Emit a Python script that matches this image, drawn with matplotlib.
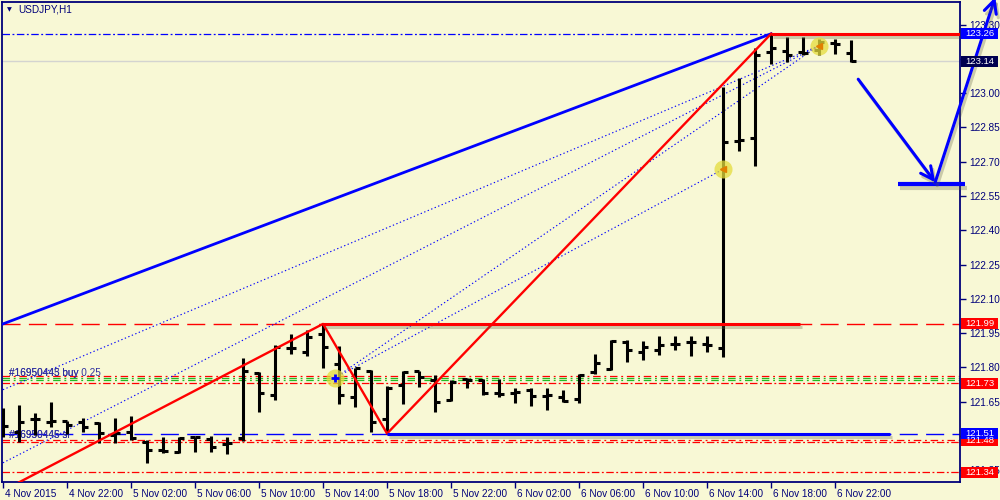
import numpy as np
import matplotlib
matplotlib.use("Agg")
import matplotlib.pyplot as plt
import matplotlib.patheffects as pe
from matplotlib.patches import Rectangle
from matplotlib.transforms import blended_transform_factory, offset_copy

plt.rcParams['font.family'] = ['Liberation Sans', 'DejaVu Sans']

# ---------------- data ----------------
title = "USDJPY,H1"
time_labels = ["4 Nov 2015", "4 Nov 22:00", "5 Nov 02:00", "5 Nov 06:00", "5 Nov 10:00",
               "5 Nov 14:00", "5 Nov 18:00", "5 Nov 22:00", "6 Nov 02:00", "6 Nov 06:00",
               "6 Nov 10:00", "6 Nov 14:00", "6 Nov 18:00", "6 Nov 22:00"]
label_every = 4

opens = [121.570, 121.518, 121.572, 121.561, 121.566, 121.561, 121.557, 121.504, 121.518, 121.474,
         121.439, 121.430, 121.496, 121.487, 121.465, 121.491, 121.776, 121.680, 121.886, 121.868,
         121.947, 121.816, 121.671, 121.785, 121.575, 121.724, 121.785, 121.746, 121.658, 121.750,
         121.746, 121.689, 121.689, 121.702, 121.675, 121.671, 121.662, 121.781, 121.794, 121.912,
         121.868, 121.877, 121.904, 121.912, 121.904, 121.886, 122.789, 122.803, 123.180, 123.184,
         123.180, 123.189, 123.219, 123.175]
highs = [121.623, 121.636, 121.601, 121.649, 121.566, 121.579, 121.561, 121.579, 121.588, 121.482,
         121.496, 121.496, 121.496, 121.500, 121.496, 121.842, 121.781, 121.899, 121.947, 121.965,
         121.991, 121.895, 121.798, 121.789, 121.719, 121.785, 121.785, 121.768, 121.746, 121.754,
         121.750, 121.750, 121.711, 121.711, 121.711, 121.702, 121.772, 121.860, 121.921, 121.921,
         121.917, 121.939, 121.939, 121.939, 121.939, 123.026, 123.066, 123.197, 123.259, 123.246,
         123.246, 123.237, 123.237, 123.232]
lows = [121.496, 121.474, 121.504, 121.539, 121.509, 121.518, 121.469, 121.469, 121.482, 121.382,
        121.425, 121.425, 121.430, 121.430, 121.421, 121.478, 121.605, 121.658, 121.860, 121.851,
        121.798, 121.640, 121.627, 121.518, 121.509, 121.640, 121.715, 121.605, 121.654, 121.711,
        121.680, 121.671, 121.645, 121.632, 121.614, 121.649, 121.645, 121.772, 121.789, 121.825,
        121.833, 121.855, 121.877, 121.851, 121.868, 121.846, 122.746, 122.680, 123.127, 123.136,
        123.167, 123.167, 123.171, 123.136]
closes = [121.545, 121.561, 121.575, 121.566, 121.548, 121.539, 121.513, 121.513, 121.491, 121.439,
          121.434, 121.491, 121.494, 121.452, 121.469, 121.785, 121.689, 121.890, 121.884, 121.934,
          121.890, 121.680, 121.798, 121.561, 121.711, 121.781, 121.759, 121.649, 121.737, 121.746,
          121.689, 121.684, 121.693, 121.675, 121.680, 121.654, 121.768, 121.820, 121.917, 121.877,
          121.890, 121.899, 121.904, 121.910, 121.899, 122.785, 122.794, 123.167, 123.197, 123.167,
          123.175, 123.224, 123.215, 123.140]

y_ticks = [121.35, 121.50, 121.65, 121.80, 121.95, 122.10, 122.25, 122.40,
           122.55, 122.70, 122.85, 123.00, 123.15, 123.30]
hidden_ticks = [121.50, 123.15]   # covered by the price boxes in the terminal

# drawn objects (bar index, price)
blue_trend_x = [0, 48]
blue_trend_y = [121.99, 123.26]
red_zigzag_x = [0, 20, 24, 48]
red_zigzag_y = [121.26, 121.99, 121.51, 123.26]
red_top_x = [48, 60]
red_top_y = 123.26
red_mid_x = [20, 49.8]
red_mid_y = 121.99
blue_low_x = [24, 55.4]
blue_low_y = 121.51
fan_lines = [((0, 121.702), (50.94, 123.206)),
             ((0, 121.382), (50.94, 123.206)),
             ((20.75, 121.754), (50.94, 123.206)),
             ((20.75, 121.754), (45.0, 122.667))]
circle_x = [20.75, 45.0, 51.0]
circle_y = [121.754, 122.667, 123.206]
arrow_pts = [(53.44, 123.061), (58.25, 122.610), (62.0, 123.42)]
target_x = [55.9, 60.1]
target_y = 122.601

price_boxes = [(123.26, '#0000FF'), (123.14, '#000050'), (121.99, '#FF0000'),
               (121.73, '#FF0000'), (121.48, '#FF0000'), (121.51, '#0000FF'),
               (121.34, '#FF0000')]

# ---------------- style ----------------
bg = '#F8F8D5'
navy = '#00007A'
fs = 7.2
W, H = 1000, 500
fig = plt.figure(figsize=(10, 5), dpi=100, facecolor=bg)
ax = fig.add_axes([2 / W, (H - 482) / H, (960 - 2) / W, (482 - 2) / H])
ax.set_facecolor(bg)
ax.set_xlim(-0.06, 59.8)
ax.set_ylim(121.298, 123.399)
for s in ax.spines.values():
    s.set_color(navy)
    s.set_linewidth(1.3)

ax.yaxis.tick_right()
ax.set_yticks(y_ticks)
ax.set_yticklabels(["" if v in hidden_ticks else f"{v:.2f}" for v in y_ticks])
ax.tick_params(axis='y', length=4, width=1, color=navy, labelcolor=navy,
               labelsize=fs, pad=3)
xt = np.arange(0, len(opens), label_every)
ax.set_xticks(xt)
ax.set_xticklabels(time_labels, ha='left')
ax.tick_params(axis='x', length=4, width=1, color=navy, labelcolor=navy,
               labelsize=fs, pad=1)
for lbl in ax.get_xticklabels():
    lbl.set_transform(offset_copy(lbl.get_transform(), fig=fig, x=2, y=0, units='dots'))

x = np.arange(len(opens))
shadow = [pe.SimpleLineShadow(offset=(1.5, -2.5), shadow_color='#606040', alpha=0.3), pe.Normal()]

# horizontal level lines
ax.axhline(123.26, color='#0000FF', lw=0.9, dashes=(6, 2, 1.5, 2), zorder=1)
ax.axhline(123.14, color='#D4D4D0', lw=1.0, zorder=1)
ax.axhline(121.99, color='#FF0000', lw=1.0, dashes=(13, 6), zorder=1)
ax.axhline(121.51, color='#0000FF', lw=1.0, dashes=(13, 6), zorder=1)
ax.axhline(121.762, color='#FF0000', lw=0.9, dashes=(6, 3, 1.5, 3), zorder=1)
ax.axhline(121.754, color='#22BB22', lw=0.9, dashes=(6, 3, 1.5, 3), zorder=1)
ax.axhline(121.746, color='#22BB22', lw=0.9, dashes=(6, 3, 1.5, 3), zorder=1)
ax.axhline(121.732, color='#FF0000', lw=0.9, dashes=(6, 2, 1.5, 2), zorder=1)
ax.axhline(121.483, color='#FF0000', lw=0.9, dashes=(6, 3, 1.5, 3), zorder=1)
ax.axhline(121.474, color='#FF0000', lw=0.9, dashes=(6, 2, 1.5, 2), zorder=1)
ax.axhline(121.34, color='#FF0000', lw=0.9, dashes=(6, 2, 1.5, 2), zorder=1)

# dotted fan lines
for (p0, p1) in fan_lines:
    ax.plot([p0[0], p1[0]], [p0[1], p1[1]], color='#0000FF', lw=0.8,
            dashes=(1.2, 2.2), zorder=2)

# OHLC bars
tick = 0.32
ax.vlines(x, lows, highs, color='black', lw=2.2, zorder=3)
ax.hlines(opens, x - tick, x, color='black', lw=2.2, zorder=3)
ax.hlines(closes, x, x + tick, color='black', lw=2.2, zorder=3)

# objects
ax.plot(blue_trend_x, blue_trend_y, color='#0000FF', lw=2.0, zorder=4)
ax.plot(red_zigzag_x, red_zigzag_y, color='#FF0000', lw=1.7, zorder=4)
ax.plot(red_top_x, [red_top_y] * 2, color='#FF0000', lw=2.2, zorder=4,
        path_effects=shadow, solid_capstyle='butt')
ax.plot(red_mid_x, [red_mid_y] * 2, color='#FF0000', lw=2.2, zorder=4,
        path_effects=shadow, solid_capstyle='butt')
ax.plot(blue_low_x, [blue_low_y] * 2, color='#0000FF', lw=2.2, zorder=4,
        path_effects=shadow, solid_capstyle='butt')
ax.plot(target_x, [target_y] * 2, color='#0000FF', lw=3.0, zorder=4,
        path_effects=shadow, solid_capstyle='butt', clip_on=False)

for i in range(2):
    ann = ax.annotate('', xy=arrow_pts[i + 1], xytext=arrow_pts[i],
                      arrowprops=dict(arrowstyle='->,head_length=0.9,head_width=0.45',
                                      color='#0000FF', lw=2.2, shrinkA=0, shrinkB=0,
                                      path_effects=shadow),
                      annotation_clip=False, zorder=5)
    ann.arrow_patch.set_clip_on(False)

# trade markers
ax.plot(circle_x, circle_y, 'o', ms=13, color='#E4DC3C', alpha=0.75, mec='none', zorder=5)
ax.plot(circle_x[0], circle_y[0], '+', ms=6, mew=2, color='#0000FF', zorder=6)
ax.plot(circle_x[1:], circle_y[1:], '<', ms=4, color='#E08000', zorder=6)

# order texts
for t in ["#16950443 buy 0.25", "#16950445 buy"]:
    ax.text(0.4, 121.773, t, color='#3030A0', fontsize=fs, va='center', zorder=2)
for t in ["#16950446 sl", "#16950445 sl"]:
    ax.text(0.4, 121.503, t, color='#3030A0', fontsize=fs, va='center', zorder=2)

# price label boxes
trans = blended_transform_factory(fig.transFigure, ax.transData)
hh = 5.5 / 228
for val, col in price_boxes:
    ax.add_patch(Rectangle((961 / W, val - hh), 37 / W, 2 * hh, transform=trans,
                           facecolor=col, edgecolor='none', clip_on=False, zorder=8))
    ax.text(965 / W, val, f"{val:.2f}", transform=trans, color='white', fontsize=6.8,
            va='center', ha='left', zorder=9, clip_on=False)

# title
fig.text(7 / W, 1 - 10 / H, "\u25BC", color=navy, fontsize=4.5, va='center',
         family='DejaVu Sans')
fig.text(18 / W, 1 - 10 / H, title, color=navy, fontsize=fs, va='center')

fig.savefig('out.png', dpi=100, facecolor=bg)
